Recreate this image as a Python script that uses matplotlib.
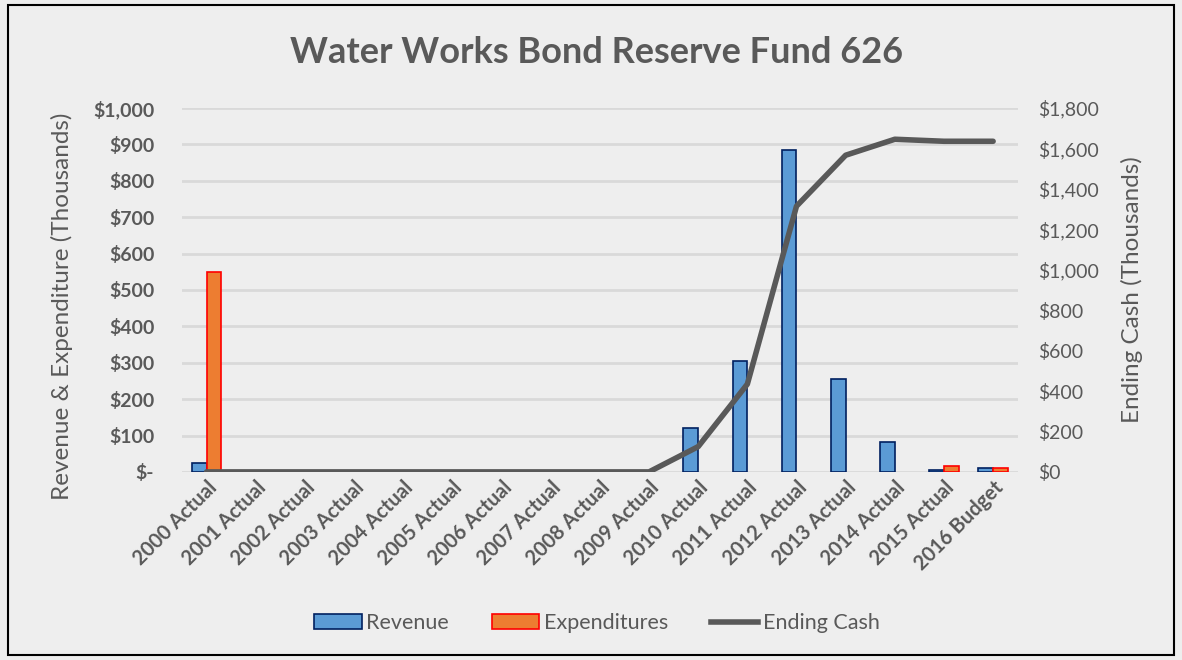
import matplotlib.pyplot as plt
import numpy as np
from matplotlib.patches import Patch, Rectangle
from matplotlib.lines import Line2D
from matplotlib.ticker import FuncFormatter

plt.rcParams['font.family'] = ['Lato', 'DejaVu Sans']

years = ["2000 Actual", "2001 Actual", "2002 Actual", "2003 Actual", "2004 Actual",
         "2005 Actual", "2006 Actual", "2007 Actual", "2008 Actual", "2009 Actual",
         "2010 Actual", "2011 Actual", "2012 Actual", "2013 Actual", "2014 Actual",
         "2015 Actual", "2016 Budget"]
revenue = [25, 0, 0, 0, 0, 0, 0, 0, 0, 0, 120, 305, 885, 255, 82, 5, 10]
expenditures = [550, 0, 0, 0, 0, 0, 0, 0, 0, 0, 0, 0, 0, 0, 0, 15, 10]
ending_cash = [0, 0, 0, 0, 0, 0, 0, 0, 0, 0, 125, 434, 1314, 1566, 1645, 1635, 1635]

BG = "#eeeeee"
INK = "#595959"
BLUE = "#5b9bd5"
ORANGE = "#ed7d31"
LINE = "#595959"
GRID = "#d9d9d9"

fig = plt.figure(figsize=(11.82, 6.6), dpi=100, facecolor=BG)
fig.patches.append(Rectangle((0.007, 0.008), 0.986, 0.984, transform=fig.transFigure,
                             fill=False, edgecolor="black", lw=1.5))
ax = fig.add_axes([0.154, 0.285, 0.707, 0.5515])
ax.set_facecolor(BG)
ax2 = ax.twinx()

x = np.arange(len(years))
w = 0.3
rev = np.array(revenue, dtype=float)
exp_ = np.array(expenditures, dtype=float)
# skip empty years so no zero-height outlines are drawn
rm, em = rev > 0, exp_ > 0
ax.bar(x[rm] - w / 2, rev[rm], w, color=BLUE, edgecolor="#002060", lw=1.2, zorder=3)
ax.bar(x[em] + w / 2, exp_[em], w, color=ORANGE, edgecolor="red", lw=1.2, zorder=3)
ax2.plot(x, ending_cash, color=LINE, lw=4, solid_capstyle="round", zorder=4)

ax.set_xlim(-0.5, len(years) - 0.5)
ax.set_ylim(0, 1000)
ax.set_yticks(np.arange(0, 1001, 100))
ax.yaxis.set_major_formatter(FuncFormatter(lambda v, p: "$-" if v == 0 else f"${v:,.0f}"))
ax2.set_ylim(0, 1800)
ax2.set_yticks(np.arange(0, 1801, 200))
ax2.yaxis.set_major_formatter(FuncFormatter(lambda v, p: f"${v:,.0f}"))

ax.grid(axis="y", color=GRID, lw=2, zorder=0)
ax.set_axisbelow(True)
for a in (ax, ax2):
    for s in a.spines.values():
        s.set_visible(False)
    a.tick_params(length=0, colors=INK)
for lab in ax.get_yticklabels():
    lab.set_fontsize(14)
    lab.set_fontweight("bold")
for lab in ax2.get_yticklabels():
    lab.set_fontsize(14)
ax.tick_params(axis="y", pad=20)
ax2.tick_params(axis="y", pad=15)

ax.set_xticks(x)
ax.set_xticklabels(years, rotation=45, ha="right", rotation_mode="anchor",
                   fontsize=14.5, fontweight="bold", color=INK)
ax.tick_params(axis="x", pad=4)

ax.set_ylabel("Revenue & Expenditure (Thousands)", fontsize=17.5, color=INK)
ax.yaxis.set_label_coords(-0.130, 0.456)
ax2.set_ylabel("Ending Cash (Thousands)", fontsize=17.5, color=INK)
ax2.yaxis.set_label_coords(1.124, 0.5)

fig.text(0.505, 0.921, "Water Works Bond Reserve Fund 626", ha="center", va="center",
         fontsize=26, fontweight="bold", color=INK)

handles = [Patch(facecolor=BLUE, edgecolor="#002060", lw=1.2, label="Revenue"),
           Patch(facecolor=ORANGE, edgecolor="red", lw=1.2, label="Expenditures"),
           Line2D([], [], color=LINE, lw=4, label="Ending Cash")]
leg = fig.legend(handles=handles, loc="center", bbox_to_anchor=(0.505, 0.056), ncol=3,
                 frameon=False, fontsize=15.5, handlelength=2.2, handletextpad=0.2,
                 columnspacing=2.0, labelcolor=INK)

fig.savefig("out.png", dpi=100, facecolor=BG)
